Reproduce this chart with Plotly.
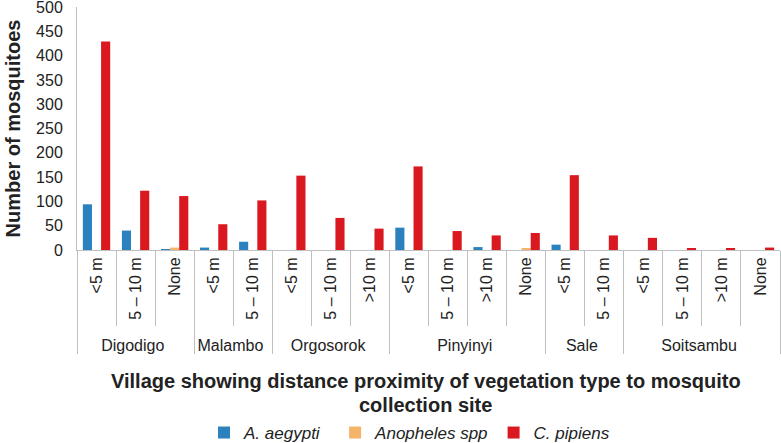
import plotly.graph_objects as go

# Data (ordered so that the inner categories appear in the reference order within every village)
villages = ["Digodigo", "Digodigo",
            "Malambo", "Malambo",
            "Orgosorok", "Orgosorok", "Orgosorok",
            "Digodigo",
            "Pinyinyi", "Pinyinyi", "Pinyinyi", "Pinyinyi",
            "Sale", "Sale",
            "Soitsambu", "Soitsambu", "Soitsambu", "Soitsambu"]
distances = ["<5 m", "5 – 10 m",
             "<5 m", "5 – 10 m",
             "<5 m", "5 – 10 m", ">10 m",
             "None",
             "<5 m", "5 – 10 m", ">10 m", "None",
             "<5 m", "5 – 10 m",
             "<5 m", "5 – 10 m", ">10 m", "None"]
a_aegypti = [94, 40, 5, 17, 0, 0, 0, 2, 46, 0, 6, 0, 11, 0, 0, 0, 0, 0]
anopheles = [0, 0, 0, 0, 0, 0, 0, 5, 0, 0, 0, 3, 0, 0, 0, 0, 0, 0]
c_pipiens = [429, 122, 53, 102, 153, 66, 44, 111, 172, 39, 30, 35, 154, 30, 25, 3, 4, 5]
y_ticks = [0, 50, 100, 150, 200, 250, 300, 350, 400, 450, 500]
series_names = ["<i>A. aegypti</i>&nbsp;&nbsp;", "<i>Anopheles spp</i>", "<i>C. pipiens</i>"]
series_colors = ["#2B80BE", "#F6B46A", "#D9181F"]
x_title_lines = ["Village showing distance proximity of vegetation type to mosquito", "collection site"]

x = [villages, distances]
font_main = "Liberation Sans, Arial, sans-serif"

fig = go.Figure()
for vals, nm, col in zip([a_aegypti, anopheles, c_pipiens], series_names, series_colors):
    fig.add_trace(go.Bar(x=x, y=vals, name=nm, marker_color=col, marker_line_width=0))

annotations = []
for line, ypos in zip(x_title_lines, [-0.539, -0.638]):
    annotations.append(dict(
        text="<b>" + line + "</b>", x=0.4964, xref="paper", y=ypos, yref="paper",
        xanchor="center", yanchor="middle", showarrow=False,
        font=dict(family=font_main, size=20, color="#222222")))

fig.update_layout(
    width=781, height=443,
    margin=dict(l=77, r=1, t=7, b=193, autoexpand=False),
    paper_bgcolor="white", plot_bgcolor="white",
    barmode="group", bargap=0.3, bargroupgap=0,
    font=dict(family=font_main, size=16, color="#222222"),
    showlegend=True,
    legend=dict(orientation="h", x=0.1807, xanchor="left", y=-0.753, yanchor="middle",
                font=dict(size=17, color="#222222", family=font_main),
                itemwidth=30, traceorder="normal", bgcolor="rgba(0,0,0,0)"),
    annotations=annotations,
)
fig.update_xaxes(
    type="multicategory", tickangle=-90, automargin=False,
    showline=True, linecolor="#BFBFBF", linewidth=1,
    ticks="outside", tickson="boundaries", ticklen=75, tickcolor="#BFBFBF",
    showdividers=True, dividercolor="#BFBFBF", dividerwidth=1,
    tickfont=dict(size=16, color="#222222"), showgrid=False,
)
fig.update_yaxes(
    range=[0, 500], tickvals=y_ticks, showgrid=False, automargin=False,
    showline=True, linecolor="#BFBFBF", linewidth=1, ticks="",
    ticklabeloverflow="allow", ticklabelstandoff=10,
    tickfont=dict(size=16, color="#222222"),
    title=dict(text="<b>Number of mosquitoes</b>", font=dict(family=font_main, size=20, color="#222222"), standoff=10),
    zeroline=False,
)

fig.write_html("out.html", config={"displayModeBar": False},
               post_script="document.body.style.margin='0';document.body.style.padding='0';")
